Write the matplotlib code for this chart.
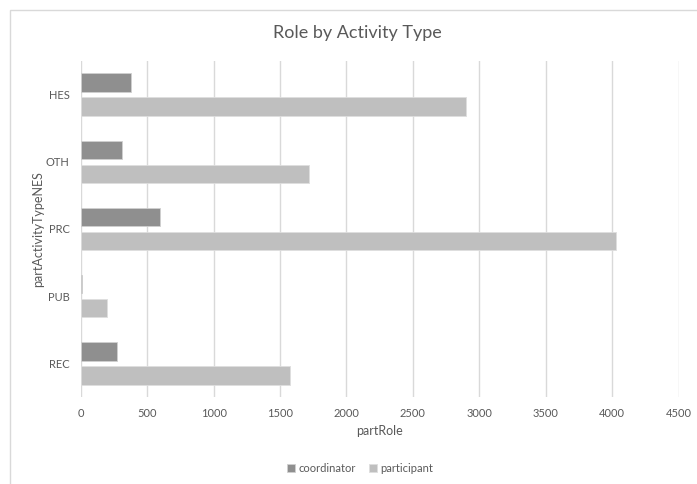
import numpy as np
import matplotlib
matplotlib.use("Agg")
import matplotlib.pyplot as plt
from matplotlib.patches import Rectangle

# Counts per activity type, top to bottom
categories = ["HES", "OTH", "PRC", "PUB", "REC"]
coordinator = [378, 311, 599, 8, 275]
participant = [2900, 1720, 4025, 198, 1577]
xticks = [0, 500, 1000, 1500, 2000, 2500, 3000, 3500, 4000, 4500]

TEXT = "#595959"
plt.rcParams["font.family"] = ["Lato", "DejaVu Sans"]

fig = plt.figure(figsize=(6.97, 4.84), dpi=100)
ax = fig.add_axes([80.7 / 697, 1 - 397 / 484, 598 / 697, 336 / 484])

# chart frame
fig.patches.append(Rectangle((10 / 697, -0.05), 1.2, 1 - 10 / 484 + 0.05,
                             transform=fig.transFigure, fill=False,
                             edgecolor="#d9d9d9", linewidth=1))

pos = np.arange(len(categories))
h = 0.273
off = 0.178
ax.barh(pos - off, coordinator, height=h, color="#8f8f8f", edgecolor="#d0d0d0",
        linewidth=0.6, label="coordinator", zorder=3)
ax.barh(pos + off, participant, height=h, color="#bfbfbf", edgecolor="#dedede",
        linewidth=0.6, label="participant", zorder=3)

ax.set_ylim(len(categories) - 0.5, -0.5)
ax.set_xlim(0, 4500)
ax.set_yticks(pos)
ax.set_yticklabels(categories)
ax.set_xticks(xticks)
ax.grid(axis="x", color="#d9d9d9", linewidth=1, zorder=0)
for s in ax.spines.values():
    s.set_visible(False)
ax.tick_params(length=0, colors=TEXT, labelsize=8)
ax.tick_params(axis="y", pad=8)
ax.tick_params(axis="x", pad=8)

ax.set_xlabel("partRole", color=TEXT, fontsize=9, labelpad=4)
ax.set_ylabel("partActivityTypeNES", color=TEXT, fontsize=9)
ax.yaxis.set_label_coords(-0.061, 0.5)
fig.text(357 / 697, 1 - 33 / 484, "Role by Activity Type", ha="center", va="center",
         color=TEXT, fontsize=13)

fig.legend(loc="center", bbox_to_anchor=(360 / 697, 1 - 468 / 484), ncol=2,
           frameon=False, fontsize=8, labelcolor=TEXT, handlelength=0.7,
           handleheight=0.7, handletextpad=0.3, columnspacing=1.2)

fig.savefig("out.png", dpi=100)
